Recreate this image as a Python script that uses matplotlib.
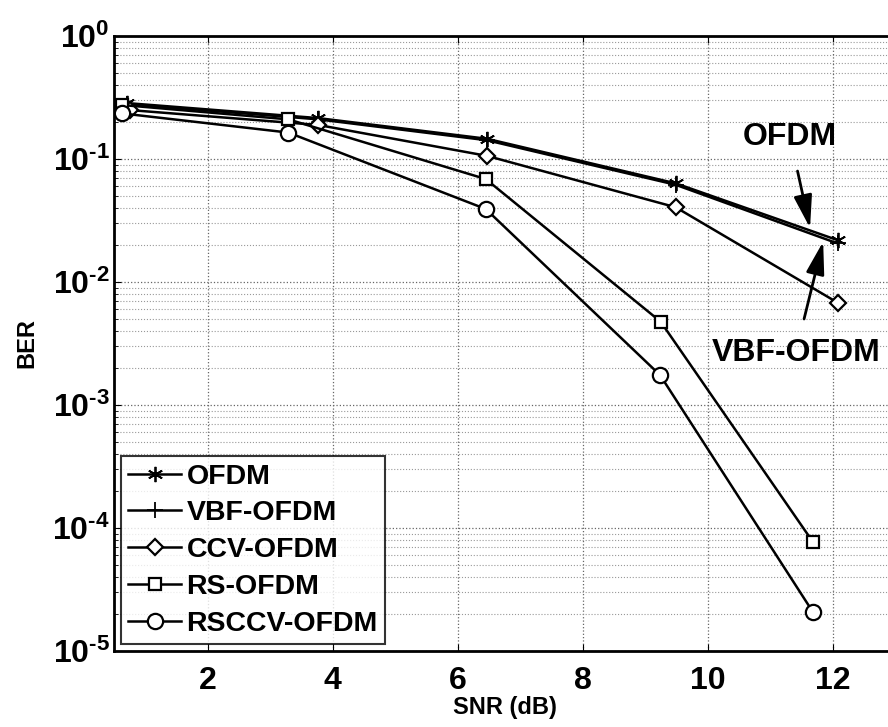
import numpy as np
import matplotlib
matplotlib.use("Agg")
import matplotlib.pyplot as plt
from matplotlib.ticker import LogLocator, NullFormatter

plt.rcParams['font.family'] = ['Liberation Sans', 'DejaVu Sans']
plt.rcParams['font.weight'] = 'bold'
plt.rcParams['mathtext.fontset'] = 'custom'
plt.rcParams['mathtext.rm'] = 'Liberation Sans:bold'
plt.rcParams['mathtext.bf'] = 'Liberation Sans:bold'
plt.rcParams['mathtext.default'] = 'bf'

# data
snr_ofdm = [0.7, 3.77, 6.47, 9.49, 12.08]
ber_ofdm = [0.285, 0.215, 0.146, 0.0634, 0.0219]
snr_vbf = [0.7, 3.77, 6.47, 9.49, 12.08]
ber_vbf = [0.28, 0.21, 0.142, 0.0617, 0.0206]
snr_ccv = [0.75, 3.77, 6.47, 9.49, 12.08]
ber_ccv = [0.25, 0.189, 0.106, 0.0405, 0.0068]
snr_rs = [0.62, 3.29, 6.45, 9.25, 11.69]
ber_rs = [0.275, 0.21, 0.0687, 0.00475, 7.65e-5]
snr_rsccv = [0.62, 3.29, 6.45, 9.24, 11.69]
ber_rsccv = [0.235, 0.164, 0.0392, 0.00175, 2.06e-5]

xticks = [2, 4, 6, 8, 10, 12]
yticks = [1e-5, 1e-4, 1e-3, 1e-2, 1e-1, 1e0]
yticklabels = [r'$10^{\text{-5}}$', r'$10^{\text{-4}}$', r'$10^{\text{-3}}$',
               r'$10^{\text{-2}}$', r'$10^{\text{-1}}$', r'$10^{0}$']

fig = plt.figure(figsize=(8.88, 7.27), dpi=100)
ax = fig.add_axes([0.1284, 0.1045, 0.8795, 0.846])

lw = 1.8
ax.semilogy(snr_ofdm, ber_ofdm, color='k', lw=lw, marker=(6, 2, 0), ms=11, mew=1.3, label='OFDM')
ax.semilogy(snr_vbf, ber_vbf, color='k', lw=lw, marker='+', ms=11, mew=1.3, label='VBF-OFDM')
ax.semilogy(snr_ccv, ber_ccv, color='k', lw=lw, marker='D', ms=8, mew=1.6, mfc='white', label='CCV-OFDM')
ax.semilogy(snr_rs, ber_rs, color='k', lw=lw, marker='s', ms=9, mew=1.6, mfc='white', label='RS-OFDM')
ax.semilogy(snr_rsccv, ber_rsccv, color='k', lw=lw, marker='o', ms=11, mew=1.6, mfc='white', label='RSCCV-OFDM')

ax.set_xlim(0.5, 13)
ax.set_ylim(1e-5, 1)
ax.set_xticks(xticks)
ax.set_yticks(yticks)
ax.set_yticklabels(yticklabels)
ax.yaxis.set_minor_locator(LogLocator(base=10, subs=np.arange(2, 10), numticks=20))
ax.yaxis.set_minor_formatter(NullFormatter())

ax.grid(True, which='major', color='#666666', linestyle=':', linewidth=0.9)
ax.grid(True, which='minor', axis='y', color='#999999', linestyle=':', linewidth=0.8)
ax.tick_params(which='both', direction='in', top=True, right=True)
ax.tick_params(which='major', length=5, labelsize=23, pad=3)
ax.tick_params(axis='x', pad=11)
ax.tick_params(which='minor', length=3)
for s in ax.spines.values():
    s.set_linewidth(2)

ax.set_xlabel('SNR (dB)', fontsize=17, fontweight='bold', labelpad=0)
ax.set_ylabel('BER', fontsize=17, fontweight='bold', labelpad=10)

arrow = dict(arrowstyle='-|>,head_length=1.0,head_width=0.28', color='k', lw=2,
             mutation_scale=20, shrinkA=12, shrinkB=0)
ax.annotate('OFDM', xy=(11.64, 0.0275), xytext=(11.32, 0.151), fontsize=23, fontweight='bold',
            ha='center', va='center', arrowprops=arrow)
ax.annotate('VBF-OFDM', xy=(11.85, 0.0213), xytext=(11.41, 0.00265), fontsize=23, fontweight='bold',
            ha='center', va='center', arrowprops=arrow)

leg = ax.legend(loc='lower left', fontsize=20.5, frameon=True, fancybox=False, edgecolor='k',
                handlelength=1.85, handletextpad=0.2, labelspacing=0.38, borderpad=0.25,
                borderaxespad=0.25)
leg.get_frame().set_linewidth(1.5)

fig.savefig('out.png', dpi=100)
